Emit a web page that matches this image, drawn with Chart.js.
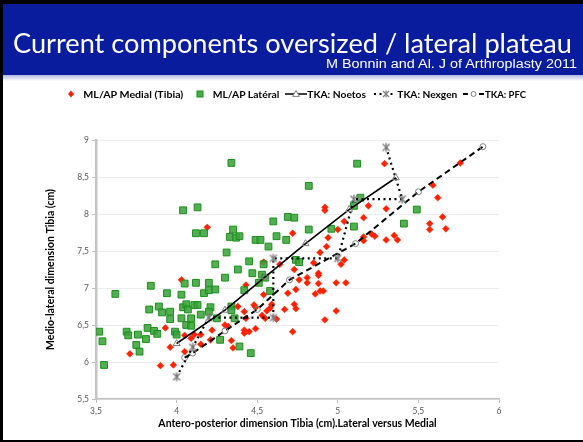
<!DOCTYPE html>
<html>
<head>
<meta charset="utf-8">
<title>Current components oversized / lateral plateau</title>
<script src="https://cdn.jsdelivr.net/npm/chart.js@4.4.0/dist/chart.umd.min.js"></script>
<style>
    html, body { margin: 0; padding: 0; background: #fff; }
    #page { position: relative; width: 583px; height: 442px; overflow: hidden; background: #fff; }
    #chartBox { position: absolute; left: 0; top: 0; width: 583px; height: 442px; }
    #overlay { position: absolute; left: 0; top: 0; pointer-events: none; }
</style>
</head>
<body>
<div id="page">
    <div id="chartBox"><canvas id="tibiaChart"></canvas></div>
    <svg id="overlay" width="583" height="442" xmlns="http://www.w3.org/2000/svg">
        <defs>
            <linearGradient id="fade" x1="0" y1="0" x2="0" y2="1">
                <stop offset="0" stop-color="#aeb8de"/>
                <stop offset="1" stop-color="#ffffff"/>
            </linearGradient>
        </defs>
        <!-- banner -->
        <rect x="0" y="0" width="583" height="75" fill="#0a1c9e"/>
        <rect x="0" y="75" width="583" height="6" fill="url(#fade)"/>
        <text x="13" y="53" fill="#fff" font-family="Lato, 'Open Sans', sans-serif" font-size="27"
              textLength="559" lengthAdjust="spacingAndGlyphs">Current components oversized / lateral plateau</text>
        <text x="326" y="68" fill="#fff" font-family="'Liberation Sans', Arial, sans-serif" font-size="12.5"
              textLength="251" lengthAdjust="spacingAndGlyphs">M Bonnin and Al. J of Arthroplasty 2011</text>

        <!-- legend -->
        <g font-family="Lato, 'Open Sans', sans-serif" font-size="10" font-weight="bold" fill="#000">
            <polygon points="71,90.6 74,94 71,97.4 68,94" fill="#ff2200"/>
            <text x="83.3" y="97.5" textLength="100" lengthAdjust="spacingAndGlyphs">ML/AP Medial (Tibia)</text>

            <rect x="197" y="91" width="6" height="6" fill="#47a947" stroke="#1c8f1c" stroke-width="1"/>
            <text x="212.7" y="97.5" textLength="66.6" lengthAdjust="spacingAndGlyphs">ML/AP Latéral</text>

            <line x1="285" y1="94" x2="307" y2="94" stroke="#000" stroke-width="1.5"/>
            <polygon points="296,90.6 299.4,96.4 292.6,96.4" fill="#fff" stroke="#808080" stroke-width="1"/>
            <text x="307.3" y="97.5" textLength="58.7" lengthAdjust="spacingAndGlyphs">TKA: Noetos</text>

            <line x1="374" y1="94" x2="394" y2="94" stroke="#000" stroke-width="2" stroke-dasharray="2,3.5"/>
            <g stroke="#808080" stroke-width="1.2">
                <line x1="383" y1="91" x2="389" y2="97"/>
                <line x1="389" y1="91" x2="383" y2="97"/>
                <line x1="386" y1="90.5" x2="386" y2="97.5"/>
            </g>
            <text x="397.3" y="97.5" textLength="60" lengthAdjust="spacingAndGlyphs">TKA: Nexgen</text>

            <line x1="463" y1="94" x2="484" y2="94" stroke="#000" stroke-width="2" stroke-dasharray="5,3"/>
            <circle cx="473.5" cy="94" r="2.5" fill="#fff" stroke="#808080" stroke-width="1"/>
            <text x="485" y="97.5" textLength="41" lengthAdjust="spacingAndGlyphs">TKA: PFC</text>
        </g>

        <!-- frame -->
        <rect x="0" y="0" width="583" height="4" fill="#000"/>
        <rect x="0" y="0" width="3" height="442" fill="#000"/>
        <rect x="0" y="440" width="583" height="2" fill="#000"/>
    </svg>
</div>

<script>
// ── data (AP in cm, ML in cm) ────────────────────────────────────────────────
const medialAP = [
    4.19, 4.03, 4.54, 5.29, 5.76, 5.59, 5.62, 5.19, 4.92, 4.92,
    5.30, 5.65, 5.57, 5.57, 5.67, 5.16, 5.04, 5.00, 4.72, 4.94,
    4.93, 5.16, 5.16, 5.21, 5.23, 5.30, 5.35, 5.37, 4.89, 4.64,
    4.85, 4.73, 4.88, 4.88, 5.02, 5.04, 4.81, 3.71, 3.90, 3.93,
    3.96, 3.98, 4.05, 4.05, 4.09, 4.11, 4.15, 4.15, 4.21, 4.22,
    4.30, 4.32, 4.34, 4.35, 4.38, 4.42, 4.42, 4.42, 4.43, 4.45,
    4.48, 4.49, 4.49, 4.43, 4.54, 4.53, 4.55, 4.56, 4.81, 4.76,
    4.88, 4.99, 5.05, 4.69, 4.74, 4.86, 4.89, 4.91, 4.59, 4.58,
    4.73, 4.74, 4.67, 4.62, 4.99, 4.92, 4.72
];
const medialML = [
    7.82, 7.11, 7.35, 8.68, 8.69, 8.39, 8.22, 8.11, 8.09, 8.05,
    8.07, 7.96, 7.87, 7.79, 7.80, 7.95, 7.90, 7.79, 7.74, 7.68,
    7.56, 7.69, 7.64, 7.73, 7.70, 7.65, 7.71, 7.65, 7.48, 7.32,
    7.34, 7.25, 7.20, 7.17, 7.32, 7.38, 7.14, 6.11, 5.95, 6.46,
    6.20, 5.96, 6.36, 6.14, 6.32, 6.37, 6.37, 6.24, 6.30, 6.43,
    6.50, 6.48, 6.29, 6.19, 6.75, 6.68, 6.43, 6.39, 6.59, 6.41,
    6.77, 6.74, 6.45, 7.04, 6.91, 6.63, 6.59, 6.69, 7.07, 7.11,
    7.06, 7.07, 7.07, 6.93, 6.98, 6.92, 6.96, 6.96, 6.78, 6.73,
    6.78, 6.72, 6.71, 6.58, 6.69, 6.57, 6.41
];

const lateralAP = [
    4.04, 4.13, 4.34, 4.12, 4.17, 4.35, 4.33, 4.37, 4.39, 4.49,
    4.52, 4.57, 4.31, 4.24, 4.38, 4.45, 4.47, 4.54, 4.30, 5.12,
    4.82, 5.14, 5.10, 5.49, 4.60, 4.69, 4.73, 4.82, 4.96, 5.10,
    5.41, 4.62, 4.68, 4.74, 4.76, 4.53, 3.52, 3.54, 3.55, 3.62,
    3.69, 3.70, 3.76, 3.75, 3.77, 3.81, 3.82, 3.83, 3.84, 3.86,
    3.88, 3.89, 3.91, 3.94, 3.96, 3.96, 3.99, 4.00, 4.03, 4.03,
    4.04, 4.05, 4.06, 4.06, 4.07, 4.09, 4.09, 4.12, 4.11, 4.13,
    4.15, 4.17, 4.20, 4.20, 4.21, 4.20, 4.24, 4.27, 4.34, 4.34,
    4.36, 4.39, 4.42, 4.46, 4.51, 4.55, 4.58, 4.25
];
const lateralML = [
    8.05, 8.09, 8.69, 7.74, 7.74, 7.79, 7.69, 7.68, 7.70, 7.65,
    7.65, 7.56, 7.48, 7.32, 7.25, 7.36, 7.20, 7.32, 7.14, 8.68,
    8.38, 8.22, 8.11, 8.06, 7.90, 7.96, 7.95, 7.79, 7.80, 7.83,
    7.87, 7.70, 7.65, 7.38, 7.35, 7.18, 6.41, 6.28, 5.96, 6.92,
    6.41, 6.36, 6.37, 6.23, 6.14, 6.31, 6.46, 6.71, 7.03, 6.42,
    6.38, 6.75, 6.67, 6.93, 6.68, 6.58, 6.41, 6.37, 6.91, 6.59,
    6.74, 7.06, 6.50, 6.78, 6.71, 6.59, 6.49, 7.07, 6.77, 6.77,
    6.64, 6.93, 7.07, 6.97, 6.74, 6.68, 6.98, 6.30, 6.75, 6.70,
    6.59, 6.21, 6.97, 6.12, 7.07, 7.14, 6.96, 6.59
];

// implant size ranges
const noetosAP = [4.00, 4.30, 4.55, 4.80, 5.07, 5.36];
const noetosML = [6.25, 6.70, 7.15, 7.60, 8.06, 8.49];
const nexgenAP = [4.00, 4.10, 4.20, 4.60, 4.60, 5.00, 5.10, 5.40, 5.30];
const nexgenML = [5.80, 6.20, 6.60, 6.60, 7.40, 7.40, 8.20, 8.20, 8.90];
const pfcAP = [4.05, 4.10, 4.30, 4.50, 4.70, 5.11, 5.50, 5.90];
const pfcML = [6.06, 6.12, 6.42, 6.71, 7.11, 7.60, 8.30, 8.91];

const xTicks = [3.5, 4, 4.5, 5, 5.5, 6];
const yTicks = [5.5, 6, 6.5, 7, 7.5, 8, 8.5, 9];

// ── helpers ──────────────────────────────────────────────────────────────────
const toPoints = (xs, ys) => xs.map((x, i) => ({ x, y: ys[i] }));
const commaDecimal = v => String(v).replace(".", ",");

// Excel-like star marker (X with a vertical stroke)
function starMarker() {
    const c = document.createElement("canvas");
    c.width = 12;
    c.height = 12;
    const g = c.getContext("2d");
    g.strokeStyle = "#7f7f7f";
    g.lineWidth = 1.4;
    g.beginPath();
    g.moveTo(2.5, 2.5); g.lineTo(9.5, 9.5);
    g.moveTo(9.5, 2.5); g.lineTo(2.5, 9.5);
    g.moveTo(6, 1.5); g.lineTo(6, 10.5);
    g.stroke();
    return c;
}

Chart.defaults.font.family = "Lato, 'Open Sans', sans-serif";
Chart.defaults.color = "#595959";

const ctx = document.getElementById("tibiaChart").getContext("2d");
new Chart(ctx, {
    type: "scatter",
    data: {
        datasets: [
            {
                label: "TKA: Noetos",
                data: toPoints(noetosAP, noetosML),
                showLine: true,
                borderColor: "#000",
                borderWidth: 1.6,
                pointStyle: "triangle",
                pointRadius: 4,
                pointBorderColor: "#808080",
                pointBackgroundColor: "rgba(255,255,255,0)",
                pointBorderWidth: 1,
                order: 0,
            },
            {
                label: "TKA: Nexgen",
                data: toPoints(nexgenAP, nexgenML),
                showLine: true,
                borderColor: "#000",
                borderWidth: 2.2,
                borderDash: [2, 3.5],
                pointStyle: starMarker(),
                order: 0,
            },
            {
                label: "TKA: PFC",
                data: toPoints(pfcAP, pfcML),
                showLine: true,
                borderColor: "#000",
                borderWidth: 2,
                borderDash: [6, 4],
                pointStyle: "circle",
                pointRadius: 3,
                pointBorderColor: "#808080",
                pointBackgroundColor: "rgba(255,255,255,0)",
                pointBorderWidth: 1,
                order: 0,
            },
            {
                label: "ML/AP Latéral",
                data: toPoints(lateralAP, lateralML),
                pointStyle: "rect",
                pointRadius: 4.8,
                backgroundColor: "rgba(60,164,60,0.88)",
                borderColor: "#1c8f1c",
                borderWidth: 1,
                order: 1,
            },
            {
                label: "ML/AP Medial (Tibia)",
                data: toPoints(medialAP, medialML),
                pointStyle: "rectRot",
                pointRadius: 3.4,
                backgroundColor: "#ff2200",
                borderColor: "#ff2200",
                borderWidth: 0.5,
                order: 2,
            },
        ],
    },
    options: {
        responsive: true,
        maintainAspectRatio: false,
        animation: false,
        events: [],
        layout: { padding: { left: 0, top: 140, right: 84, bottom: 0 } },
        plugins: {
            legend: { display: false },
            tooltip: { enabled: false },
        },
        scales: {
            x: {
                type: "linear",
                min: 3.5,
                max: 6,
                afterBuildTicks: s => { s.ticks = xTicks.map(v => ({ value: v })); },
                afterFit: s => { s.height = 43; },
                ticks: { callback: commaDecimal, font: { size: 8.5 }, color: "#595959", padding: 3, maxRotation: 0 },
                grid: { drawOnChartArea: false, drawTicks: true, tickLength: 4, tickColor: "#bfbfbf" },
                border: { color: "#bfbfbf", width: 1.5 },
                title: {
                    display: true,
                    text: "Antero-posterior dimension Tibia (cm).Lateral versus Medial",
                    color: "#000",
                    font: { size: 10.5, weight: "bold" },
                    padding: { top: 0, bottom: 12 },
                },
            },
            y: {
                type: "linear",
                min: 5.5,
                max: 9,
                afterBuildTicks: s => { s.ticks = yTicks.map(v => ({ value: v })); },
                afterFit: s => { s.width = 96; },
                ticks: { callback: commaDecimal, font: { size: 8.5 }, color: "#595959", padding: 3 },
                grid: { color: "#ededed", lineWidth: 1, tickLength: 4, tickColor: "#bfbfbf" },
                border: { color: "#c4c4c4", width: 2.5 },
                title: {
                    display: true,
                    text: "Medio-lateral dimension Tibia (cm)",
                    color: "#000",
                    font: { size: 10.5, weight: "bold" },
                    padding: { top: 44, bottom: 0 },
                },
            },
        },
    },
});
</script>
</body>
</html>
